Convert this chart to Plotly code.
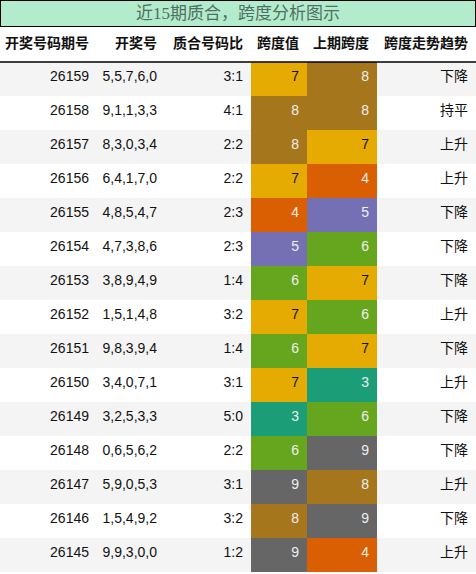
import plotly.graph_objects as go

# last 15 draws, newest first
periods = [26159, 26158, 26157, 26156, 26155, 26154, 26153, 26152,
           26151, 26150, 26149, 26148, 26147, 26146, 26145]
draws = ["5,5,7,6,0", "9,1,1,3,3", "8,3,0,3,4", "6,4,1,7,0", "4,8,5,4,7",
         "4,7,3,8,6", "3,8,9,4,9", "1,5,1,4,8", "9,8,3,9,4", "3,4,0,7,1",
         "3,2,5,3,3", "0,6,5,6,2", "5,9,0,5,3", "1,5,4,9,2", "9,9,3,0,0"]
ratios = ["3:1", "4:1", "2:2", "2:2", "2:3", "2:3", "1:4", "3:2",
          "1:4", "3:1", "5:0", "2:2", "3:1", "3:2", "1:2"]
span = [7, 8, 8, 7, 4, 5, 6, 7, 6, 7, 3, 6, 9, 8, 9]
prev_span = [8, 8, 7, 4, 5, 6, 7, 6, 7, 3, 6, 9, 8, 9, 4]
trend = ["下降", "持平", "上升", "上升", "下降", "下降", "下降", "上升",
         "下降", "上升", "下降", "下降", "上升", "下降", "上升"]

headers = ["开奖号码期号", "开奖号", "质合号码比", "跨度值", "上期跨度", "跨度走势趋势"]

# Dark2-like colours by span value
span_colors = {3: "#1b9e77", 4: "#d95f02", 5: "#7570b3", 6: "#66a61e",
               7: "#e6ab02", 8: "#a6761d", 9: "#666666"}

n = len(periods)
stripe = ["#f4f4f4" if i % 2 == 0 else "#ffffff" for i in range(n)]


def text_col(v):
    return "#111111" if v == 7 else "#eeeeee"


fills = [stripe, stripe, stripe,
         [span_colors[v] for v in span],
         [span_colors[v] for v in prev_span],
         stripe]
font_colors = [["#111111"] * n, ["#111111"] * n, ["#111111"] * n,
               [text_col(v) for v in span],
               [text_col(v) for v in prev_span],
               ["#111111"] * n]

W, H = 476, 574
title_h = 27
font_fam = "Liberation Sans, Noto Sans CJK SC, sans-serif"

fig = go.Figure(
    data=go.Table(
        columnwidth=[97, 68, 86, 56, 70, 99],
        domain=dict(x=[0, 1], y=[0, 1 - title_h / H]),
        header=dict(
            values=["<b>%s</b>" % h for h in headers],
            fill_color="white",
            line=dict(width=0),
            align="right",
            height=35,
            font=dict(family=font_fam, size=14, color="#111111"),
        ),
        cells=dict(
            values=[periods, draws, ratios, span, prev_span, trend],
            fill_color=fills,
            line=dict(width=0),
            align="right",
            height=34,
            font=dict(family=font_fam, size=14, color=font_colors),
        ),
    )
)

fig.add_shape(type="line", xref="paper", yref="paper",
              x0=0, x1=1, y0=1 - 62 / H, y1=1 - 62 / H,
              line=dict(color="black", width=1.5))

fig.add_annotation(
    text="近15期质合，跨度分析图示",
    xref="paper", yref="paper", x=0.5, y=1, xanchor="center", yanchor="top",
    showarrow=False, width=W - 4, height=title_h - 4,
    bgcolor="#b3ebcd", bordercolor="black", borderwidth=1,
    font=dict(family="Liberation Serif, Noto Sans CJK SC", size=17, color="#4f7060"),
)

fig.update_layout(width=W, height=H, margin=dict(l=0, r=0, t=0, b=0),
                  paper_bgcolor="white")

# page has a default 8px body margin; drop it so the figure fills the window
fig.write_html("out.html", config={"displayModeBar": False},
               post_script="document.body.style.margin='0';")
